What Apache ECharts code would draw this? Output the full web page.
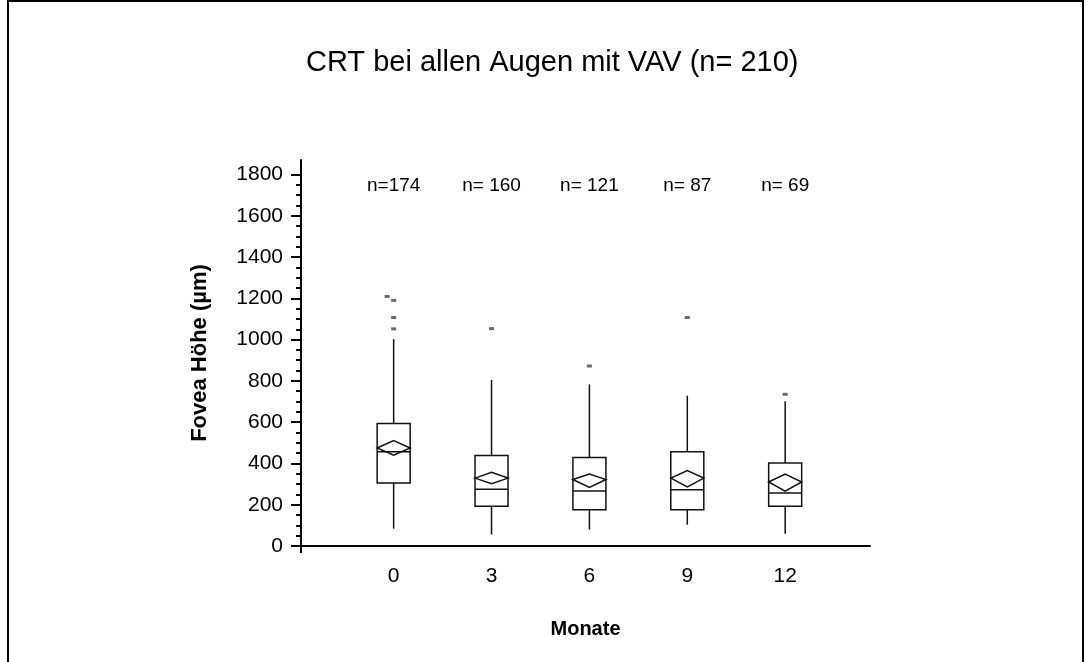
<!DOCTYPE html>
<html>
<head>
<meta charset="utf-8">
<title>CRT bei allen Augen mit VAV</title>
<script src="https://cdn.jsdelivr.net/npm/echarts@6/dist/echarts.min.js"></script>
<style>
  html, body { margin: 0; padding: 0; background: #fff; }
  #chart { width: 1091px; height: 662px; }
</style>
</head>
<body>
<div id="chart"></div>
<script>
// Monate der Kontrollen
const months = [0, 3, 6, 9, 12];
const nLabels = ['n=174', 'n= 160', 'n= 121', 'n= 87', 'n= 69'];
const nLabelY = 1745;

// Boxplot-Kennwerte (µm)
const whiskerLow = [84, 56, 79, 103, 59];
const q1 = [305, 192, 176, 176, 193];
const median = [456, 275, 266, 273, 257];
const q3 = [594, 438, 429, 456, 402];
const whiskerHigh = [1002, 804, 783, 728, 701];
// Mittelwert mit Konfidenzintervall (Raute)
const mean = [475, 329, 322, 329, 310];
const meanCiLow = [440, 302, 284, 286, 266];
const meanCiHigh = [511, 357, 349, 365, 349];
// Ausreisser [Monat, Wert]
const outliers = [[-0.2, 1209], [0, 1190], [0, 1107], [0, 1052], [3, 1053], [6, 872], [9, 1107], [12, 735]];

const yTicks = [0, 200, 400, 600, 800, 1000, 1200, 1400, 1600, 1800];
const yMinorTicks = [];
for (let v = 50; v < 1800; v += 50) {
  if (v % 200 !== 0) yMinorTicks.push(v);
}

const xMin = -2.84;
const xMax = 14.6;
const yMax = 1870;
const font = 'Liberation Sans, Arial, sans-serif';
const lineColor = '#111';
const boxHalf = 16.5;

const boxData = months.map((m, i) => [m, whiskerLow[i], q1[i], median[i], q3[i], whiskerHigh[i], mean[i], meanCiLow[i], meanCiHigh[i]]);

function renderBox(params, api) {
  const x = api.value(0);
  const p = (v) => api.coord([x, v]);
  const cx = p(0)[0];
  const yLo = p(api.value(1))[1];
  const yQ1 = p(api.value(2))[1];
  const yMed = p(api.value(3))[1];
  const yQ3 = p(api.value(4))[1];
  const yHi = p(api.value(5))[1];
  const yMean = p(api.value(6))[1];
  const yCiLo = p(api.value(7))[1];
  const yCiHi = p(api.value(8))[1];
  const style = { stroke: lineColor, lineWidth: 1.5, fill: null };
  return {
    type: 'group',
    children: [
      { type: 'line', shape: { x1: cx, y1: yHi, x2: cx, y2: yQ3 }, style },
      { type: 'line', shape: { x1: cx, y1: yQ1, x2: cx, y2: yLo }, style },
      { type: 'rect', shape: { x: cx - boxHalf, y: yQ3, width: boxHalf * 2, height: yQ1 - yQ3 }, style },
      { type: 'line', shape: { x1: cx - boxHalf, y1: yMed, x2: cx + boxHalf, y2: yMed }, style },
      {
        type: 'polygon',
        shape: { points: [[cx - boxHalf, yMean], [cx, yCiHi], [cx + boxHalf, yMean], [cx, yCiLo]] },
        style
      }
    ]
  };
}

function renderN(params, api) {
  const pt = api.coord([api.value(0), api.value(1)]);
  return {
    type: 'text',
    x: pt[0],
    y: pt[1],
    style: {
      text: nLabels[params.dataIndex],
      fontFamily: font,
      fontSize: 19,
      fill: '#000',
      align: 'center',
      verticalAlign: 'middle'
    }
  };
}

const chart = echarts.init(document.getElementById('chart'));
chart.setOption({
  animation: false,
  backgroundColor: '#fff',
  title: {
    text: 'CRT bei allen Augen mit VAV (n= 210)',
    left: 306,
    top: 48,
    padding: 0,
    textStyle: { fontFamily: font, fontSize: 29, fontWeight: 'normal', color: '#000' }
  },
  graphic: [{
    type: 'rect',
    shape: { x: 8, y: 1, width: 1075, height: 720 },
    style: { stroke: '#000', lineWidth: 2, fill: null },
    silent: true
  }],
  grid: { left: 301, right: 221, top: 160, bottom: 116 },
  xAxis: {
    type: 'value',
    min: xMin,
    max: xMax,
    name: 'Monate',
    nameLocation: 'middle',
    nameGap: 73,
    nameTextStyle: { fontFamily: font, fontSize: 20, fontWeight: 'bold', color: '#000' },
    axisLine: { onZero: false, lineStyle: { color: '#000', width: 2 } },
    axisTick: { customValues: [xMin], length: 7, lineStyle: { color: '#000', width: 2 } },
    axisLabel: { customValues: months, margin: 20, fontFamily: font, fontSize: 21, color: '#000' },
    splitLine: { show: false }
  },
  yAxis: [{
    type: 'value',
    min: 0,
    max: yMax,
    name: 'Fovea Höhe (µm)',
    nameLocation: 'middle',
    nameGap: 90,
    nameTextStyle: { fontFamily: font, fontSize: 22, fontWeight: 'bold', color: '#000' },
    axisLine: { show: true, onZero: false, lineStyle: { color: '#000', width: 2 } },
    axisTick: { customValues: yTicks, length: 10, lineStyle: { color: '#000', width: 2 } },
    axisLabel: {
      customValues: yTicks,
      formatter: (v) => String(v),
      margin: 18,
      fontFamily: font,
      fontSize: 21,
      color: '#000'
    },
    splitLine: { show: false }
  }, {
    type: 'value',
    min: 0,
    max: yMax,
    position: 'left',
    axisLine: { show: false, onZero: false },
    axisTick: { customValues: yMinorTicks, length: 5, lineStyle: { color: '#000', width: 2 } },
    axisLabel: { show: false },
    splitLine: { show: false }
  }],
  series: [{
    type: 'custom',
    renderItem: renderBox,
    data: boxData,
    encode: { x: 0, y: [1, 5] },
    silent: true
  }, {
    type: 'scatter',
    data: outliers,
    symbol: 'rect',
    symbolSize: [5, 3],
    itemStyle: { color: '#444' },
    silent: true
  }, {
    type: 'custom',
    renderItem: renderN,
    data: months.map((m) => [m, nLabelY]),
    encode: { x: 0, y: 1 },
    silent: true
  }]
});
</script>
</body>
</html>
